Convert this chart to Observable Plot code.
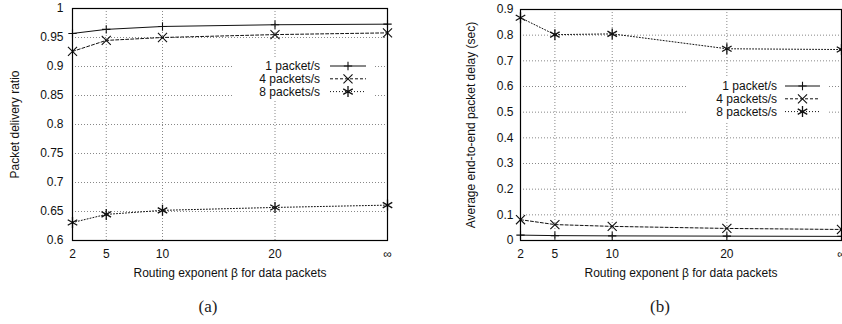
<!DOCTYPE html>
<html>
<head>
<meta charset="utf-8">
<script src="https://cdn.jsdelivr.net/npm/d3@7"></script>
<script src="https://cdn.jsdelivr.net/npm/@observablehq/plot@0.6"></script>
<style>
  html, body { margin: 0; padding: 0; background: #fff; }
  #wrap { position: relative; width: 842px; height: 324px; overflow: hidden; background: #fff; }
  .panel { position: absolute; top: 0; }
  .cap { position: absolute; top: 297px; font-family: "Liberation Serif", "DejaVu Serif", serif; font-size: 17px; color: #222; transform: translateX(-50%); }
</style>
</head>
<body>
<div id="wrap">
  <div id="pa" class="panel" style="left:0px"></div>
  <div id="pb" class="panel" style="left:420px"></div>
  <div class="cap" style="left:208px">(a)</div>
  <div class="cap" style="left:660px">(b)</div>
</div>
<script>
// ---- data ----
const betaPositions = [2, 5, 10, 20, 30];        // 30 stands for β = ∞
const betaTickLabels = ["2", "5", "10", "20", "∞"];
const seriesNames = ["1 packet/s", "4 packets/s", "8 packets/s"];

// (a) packet delivery ratio
const pdr1 = [0.957, 0.964, 0.969, 0.972, 0.973];
const pdr4 = [0.926, 0.945, 0.950, 0.955, 0.958];
const pdr8 = [0.631, 0.645, 0.652, 0.657, 0.661];

// (b) average end-to-end delay (sec)
const delay1 = [0.021, 0.019, 0.018, 0.017, 0.016];
const delay4 = [0.081, 0.062, 0.055, 0.047, 0.043];
const delay8 = [0.868, 0.802, 0.805, 0.747, 0.744];

const yTicksA = [0.6, 0.65, 0.7, 0.75, 0.8, 0.85, 0.9, 0.95, 1];
const yTicksB = [0, 0.1, 0.2, 0.3, 0.4, 0.5, 0.6, 0.7, 0.8, 0.9];

// ---- styles ----
const styles = [
  {symbol: "plus", dash: null, r: 2.8},
  {symbol: "times", dash: "3,2", r: 4.2},
  {symbol: "asterisk", dash: "1,2", r: 5.2}
];
const ink = "#111";
const FS = 12;

function toRows(arrs) {
  const rows = [];
  arrs.forEach((vals, s) => vals.forEach((v, i) => rows.push({series: seriesNames[s], s, x: betaPositions[i], y: v})));
  return rows;
}

function panel(opts) {
  const rows = toRows(opts.series);
  const marks = [
    Plot.gridX(betaPositions, {stroke: "#888", strokeOpacity: 1, strokeDasharray: "1,2"}),
    Plot.gridY(opts.yTicks, {stroke: "#888", strokeOpacity: 1, strokeDasharray: "1,2"}),
  ];
  styles.forEach((st, s) => {
    const d = rows.filter(r => r.s === s);
    marks.push(Plot.line(d, {x: "x", y: "y", stroke: ink, strokeWidth: 1, strokeDasharray: st.dash}));
    marks.push(Plot.dot(d, {x: "x", y: "y", symbol: () => st.symbol, stroke: ink, strokeWidth: s === 2 ? 1.3 : 1.1, r: st.r}));
  });
  marks.push(Plot.frame({stroke: "#000", strokeWidth: 1.2}));
  marks.push(Plot.axisX({ticks: betaPositions, tickFormat: d => betaTickLabels[betaPositions.indexOf(d)], tickSize: 0, tickPadding: 9,
    label: "Routing exponent β for data packets", labelAnchor: "center", labelArrow: "none", labelOffset: 36, fontSize: FS}));
  marks.push(Plot.axisY({ticks: opts.yTicks, tickFormat: d => String(+d.toFixed(2)), tickSize: 0, tickPadding: opts.tickPad,
    label: opts.ylabel, labelAnchor: "center", labelArrow: "none", labelOffset: opts.labelOffset, fontSize: FS}));

  const svg = Plot.plot({
    width: opts.width, height: 290,
    marginLeft: opts.ml, marginRight: opts.mr, marginTop: opts.mt, marginBottom: 50,
    style: {fontFamily: "'Liberation Sans', Arial, sans-serif", fontSize: FS + "px", color: "#111", background: "transparent", overflow: "visible"},
    x: {type: "linear", domain: [2, 30]},
    y: {domain: opts.yDomain},
    marks
  });

  // legend (inside plot, white box over the grid)
  const L = opts.legend;
  const g = d3.select(svg).append("g");
  g.append("rect").attr("x", L.boxX).attr("y", L.boxY).attr("width", L.boxW).attr("height", L.boxH).attr("fill", "white");
  seriesNames.forEach((name, s) => {
    const y = L.y0 + s * L.dy;
    g.append("text").attr("x", L.textX).attr("y", y).attr("dy", "0.35em").attr("text-anchor", "end")
      .attr("font-size", FS).attr("fill", "#111").text(name);
    g.append("line").attr("x1", L.lx1).attr("x2", L.lx2).attr("y1", y).attr("y2", y)
      .attr("stroke", ink).attr("stroke-width", 1).attr("stroke-dasharray", styles[s].dash);
    const sym = {plus: d3.symbolPlus, times: d3.symbolTimes, asterisk: d3.symbolAsterisk}[styles[s].symbol];
    g.append("path").attr("d", d3.symbol(sym, Math.PI * styles[s].r * styles[s].r)())
      .attr("transform", `translate(${(L.lx1 + L.lx2) / 2},${y})`)
      .attr("fill", "none").attr("stroke", ink).attr("stroke-width", s === 2 ? 1.3 : 1.1);
  });
  return svg;
}

document.getElementById("pa").append(panel({
  series: [pdr1, pdr4, pdr8], yTicks: yTicksA, yDomain: [0.6, 1],
  width: 420, ml: 72, mr: 33, mt: 8, tickPad: 9, labelOffset: 62,
  ylabel: "Packet delivery ratio",
  legend: {boxX: 234, boxY: 57, boxW: 141, boxH: 44, textX: 320, lx1: 330, lx2: 366, y0: 66, dy: 12.8}
}));

document.getElementById("pb").append(panel({
  series: [delay1, delay4, delay8], yTicks: yTicksB, yDomain: [0, 0.9],
  width: 422, ml: 100, mr: 1, mt: 9, tickPad: 7, labelOffset: 54,
  ylabel: "Average end-to-end packet delay (sec)",
  legend: {boxX: 267, boxY: 77, boxW: 141, boxH: 44, textX: 357, lx1: 365, lx2: 400, y0: 86, dy: 12.8}
}));
</script>
</body>
</html>
